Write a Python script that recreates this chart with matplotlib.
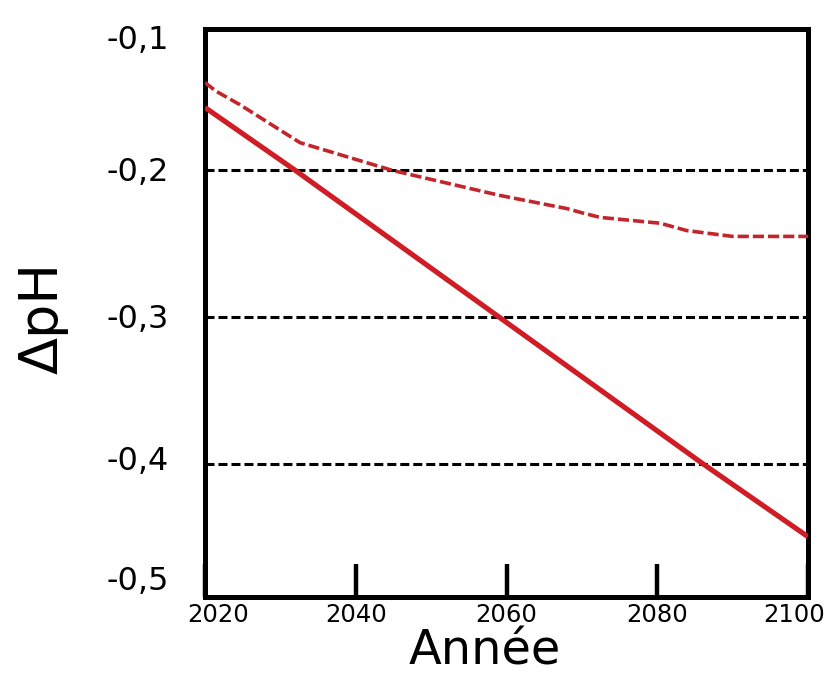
import matplotlib
matplotlib.use("Agg")
import matplotlib.pyplot as plt
import matplotlib.transforms as mtransforms

# ---- data ----
years_solid = [2020, 2032, 2059, 2086, 2100]
dph_solid = [-0.157, -0.200, -0.300, -0.400, -0.450]

years_dashed = [2020, 2021.5, 2024.6, 2032.6, 2044.9, 2059.1, 2068.0, 2070.1,
                2072.4, 2080.4, 2083.9, 2090.0, 2100]
dph_dashed = [-0.140, -0.146, -0.155, -0.181, -0.200, -0.217, -0.226, -0.229,
              -0.232, -0.236, -0.241, -0.245, -0.245]

ref_levels = [-0.2, -0.3, -0.4]

xtick_values = [2020, 2040, 2060, 2080, 2100]
xtick_labels = ["2020", "2040", "2060", "2080", "2100"]
ytick_values = [-0.109, -0.199, -0.299, -0.396, -0.478]
ytick_labels = ["-0,1", "-0,2", "-0,3", "-0,4", "-0,5"]

plt.rcParams['font.family'] = ['DejaVu Sans']

fig = plt.figure(figsize=(8.29, 6.75), dpi=100)
ax = fig.add_axes([0.2473, 0.1156, 0.7274, 0.8415])

for lvl in ref_levels:
    ax.axhline(lvl, color='black', lw=2.2, dashes=(2.95, 1.3), zorder=2)

ax.plot(years_dashed, dph_dashed, color='#c2262c', lw=2.6, dashes=(3.1, 1.1), zorder=3)
ax.plot(years_solid, dph_solid, color='#d01c24', lw=3.7, zorder=4, solid_capstyle='butt')

ax.set_xlim(2020, 2100)
ax.set_ylim(-0.4911, -0.1034)

for side in ['left', 'right', 'top', 'bottom']:
    ax.spines[side].set_linewidth(3.6)
    ax.spines[side].set_color('black')

ax.set_xticks(xtick_values)
ax.set_xticklabels(xtick_labels)
ax.set_yticks(ytick_values)
ax.set_yticklabels(ytick_labels)

ax.tick_params(axis='x', direction='in', length=24, width=3.2, pad=4,
               labelsize=17.5, color='black')
ax.tick_params(axis='y', length=0, pad=26, labelsize=23)

# nudge the end labels inward, as in the reference
labels = ax.get_xticklabels()
shifts = {0: 13, len(labels) - 1: -14}
for i, lab in enumerate(labels):
    if i in shifts:
        offset = mtransforms.ScaledTranslation(shifts[i] / 100.0, 0, fig.dpi_scale_trans)
        lab.set_transform(lab.get_transform() + offset)

ax.set_xlabel("Année", fontsize=34.5)
ax.xaxis.label.set_va('baseline')
ax.xaxis.label.set_ha('center')
ax.xaxis.set_label_coords(0.464, -0.1197)

ax.set_ylabel("ΔpH", fontsize=39)
ax.yaxis.label.set_rotation_mode('anchor')
ax.yaxis.label.set_va('baseline')
ax.yaxis.label.set_ha('center')
ax.yaxis.set_label_coords(-0.2438, 0.492)

fig.savefig("out.png", dpi=100)
